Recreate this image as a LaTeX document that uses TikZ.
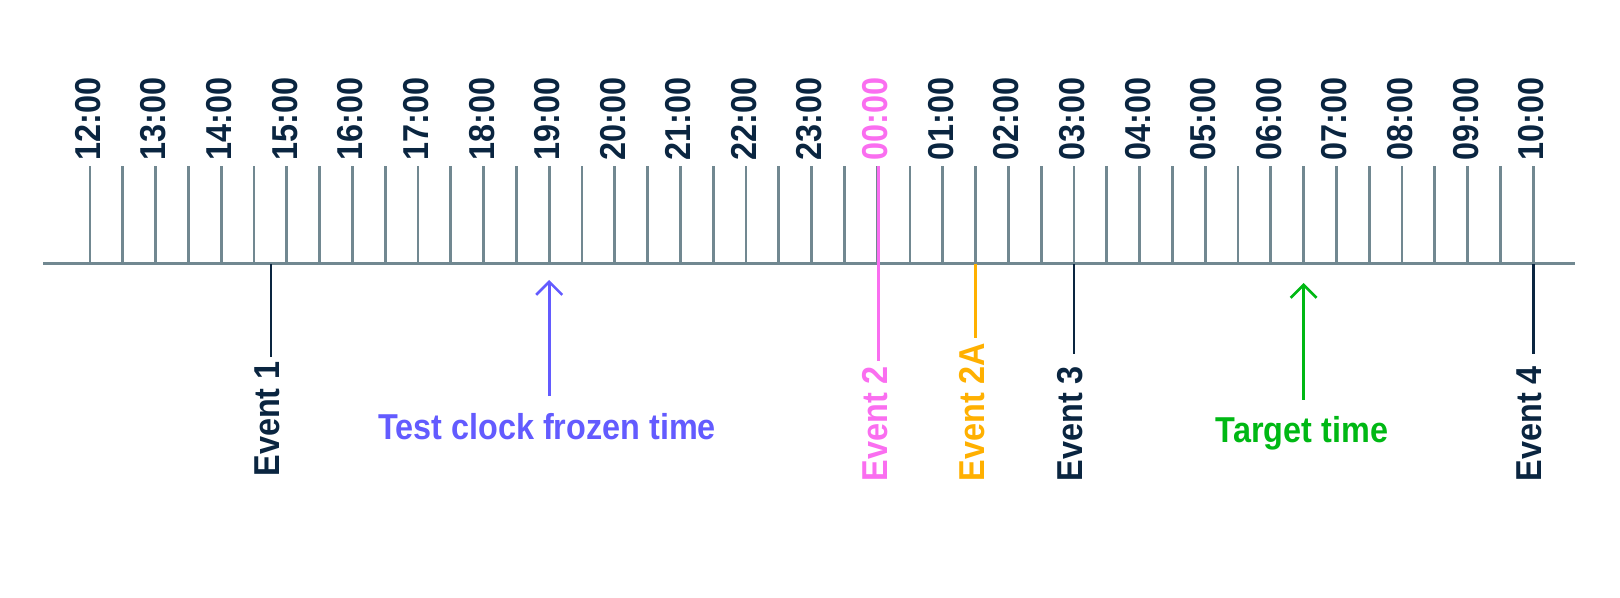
\documentclass[tikz,border=0pt]{standalone}
\usepackage{fontspec}
\setmainfont[FakeStretch=0.9]{Liberation Sans}
\usetikzlibrary{arrows.meta}
\definecolor{tickgray}{HTML}{718891}
\definecolor{navy}{HTML}{0A2540}
\definecolor{evpink}{HTML}{FA6EF0}
\definecolor{evorange}{HTML}{FFB000}
\definecolor{evgreen}{HTML}{00B814}
\definecolor{evpurple}{HTML}{635BFF}
\begin{document}
\begin{tikzpicture}[x=0.5pt,y=-0.5pt,
  lbl/.style={font=\fontsize{18pt}{21pt}\selectfont\bfseries, inner sep=0pt, text=navy},
  vlbl/.style={lbl, rotate=90, anchor=west},
  hlbl/.style={lbl, anchor=base},
  tickline/.style={draw=tickgray, line width=1.4pt},
  axisline/.style={draw=tickgray, line width=1.5pt},
  evline/.style={line width=1.4pt},
  uparrow/.style={line width=1.3pt, -{Straight Barb[length=6.5pt,width=13pt]}},
]
\useasboundingbox (0,0) rectangle (1620,598);
% ticks
\foreach \i in {0,...,44} {
  \coordinate (tb\i) at ({90+\i*32.8},264);
  \coordinate (tt\i) at ({90+\i*32.8},166);
  \draw[tickline] (tb\i) -- (tt\i);
}
% axis
\coordinate (axL) at (43,264);
\coordinate (axR) at (1575,264);
\draw[axisline] (axL) -- (axR);
% hour labels
\foreach \lab/\col [count=\k from 0] in {12:00/navy,13:00/navy,14:00/navy,15:00/navy,16:00/navy,17:00/navy,18:00/navy,19:00/navy,20:00/navy,21:00/navy,22:00/navy,23:00/navy,00:00/evpink,01:00/navy,02:00/navy,03:00/navy,04:00/navy,05:00/navy,06:00/navy,07:00/navy,08:00/navy,09:00/navy,10:00/navy} {
  \node[vlbl, text=\col] (h\k) at ({90+2*\k*32.8-2},160.5) {\lab};
}
% events
\coordinate (e1a) at (271,264);   \coordinate (e1b) at (271,357);
\coordinate (e2a) at (878.2,166); \coordinate (e2b) at (878.2,361);
\coordinate (e2Aa) at (975.6,264); \coordinate (e2Ab) at (975.6,338);
\coordinate (e3a) at (1074,264);  \coordinate (e3b) at (1074,354);
\coordinate (e4a) at (1533.2,264); \coordinate (e4b) at (1533.2,354);
\draw[evline, navy] (e1a) -- (e1b);
\draw[evline, evpink] (e2a) -- (e2b);
\draw[evline, evorange] (e2Aa) -- (e2Ab);
\draw[evline, navy] (e3a) -- (e3b);
\draw[evline, navy] (e4a) -- (e4b);
\node[vlbl] (ev1) at (267.5,477) {Event 1};
\node[vlbl, text=evpink] (ev2) at (874.7,481.7) {Event 2};
\node[vlbl, text=evorange] (ev2A) at (972.1,481.7) {Event 2A};
\node[vlbl] (ev3) at (1070.5,481.7) {Event 3};
\node[vlbl] (ev4) at (1529.7,481.7) {Event 4};
% arrows
\node[hlbl, text=evpurple] (tc) at (547,439) {Test clock frozen time};
\node[hlbl, text=evgreen] (tg) at (1302,442.7) {Target time};
\coordinate (tcTip) at (549.2,280);  \coordinate (tcTail) at (549.2,396);
\coordinate (tgTip) at (1303.6,283); \coordinate (tgTail) at (1303.6,399.5);
\draw[uparrow, evpurple] (tcTail) -- (tcTip);
\draw[uparrow, evgreen] (tgTail) -- (tgTip);
\end{tikzpicture}
\end{document}
